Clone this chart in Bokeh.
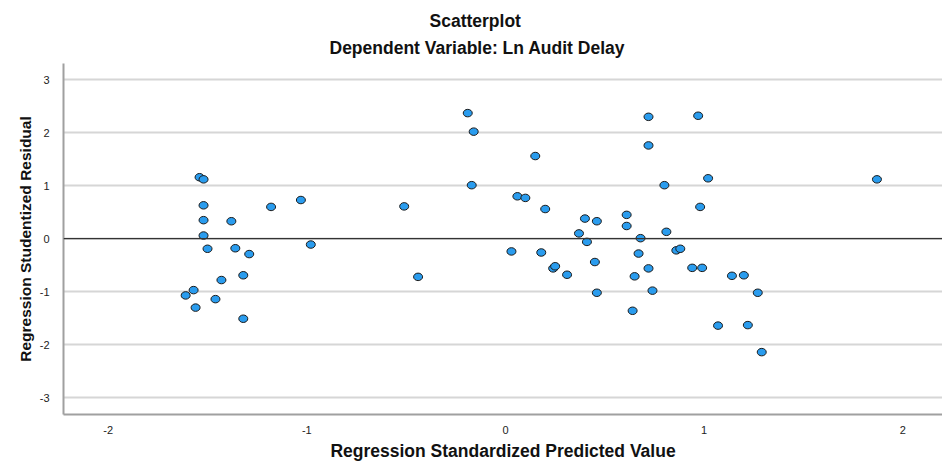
from bokeh.plotting import figure
from bokeh.models import Range1d, Title, Span, FixedTicker, ColumnDataSource, PrintfTickFormatter
from bokeh.embed import file_html
from bokeh.resources import INLINE

# Regression standardized predicted value (x) and studentized residual (y)
x_pred = [
    -1.54, -1.52, -1.52, -1.52, -1.52, -1.50, -1.38, -1.36, -1.29, -1.18,
    -1.03, -0.98, -1.43, -1.32, -1.61, -1.57, -1.56, -1.46, -1.32,
    -0.51, -0.44, -0.19, -0.16, -0.17, 0.15, 0.06, 0.10, 0.20, 0.03,
    0.18, 0.24, 0.25, 0.31, 0.40, 0.46, 0.37, 0.41, 0.45, 0.46,
    0.61, 0.61, 0.68, 0.67, 0.72, 0.65, 0.74, 0.64, 0.72, 0.72,
    0.97, 1.02, 0.80, 0.98, 0.81, 0.86, 0.88, 0.94, 0.99, 1.14,
    1.20, 1.27, 1.07, 1.22, 1.29, 1.87,
]
y_resid = [
    1.16, 1.12, 0.63, 0.35, 0.06, -0.19, 0.33, -0.18, -0.29, 0.60,
    0.73, -0.11, -0.78, -0.69, -1.07, -0.97, -1.30, -1.14, -1.51,
    0.61, -0.72, 2.37, 2.02, 1.01, 1.56, 0.80, 0.77, 0.56, -0.24,
    -0.26, -0.56, -0.52, -0.68, 0.38, 0.33, 0.10, -0.06, -0.44, -1.02,
    0.45, 0.24, 0.01, -0.28, -0.56, -0.71, -0.98, -1.36, 2.30, 1.76,
    2.32, 1.14, 1.01, 0.60, 0.13, -0.22, -0.19, -0.55, -0.55, -0.70,
    -0.69, -1.02, -1.64, -1.63, -2.14, 1.12,
]
x_ticks = [-2, -1, 0, 1, 2]
y_ticks = [-3, -2, -1, 0, 1, 2, 3]

title_text = "Scatterplot"
subtitle_text = "Dependent Variable: Ln Audit Delay"
x_label = "Regression Standardized Predicted Value"
y_label = "Regression Studentized Residual"

FONT = "Liberation Sans"

src = ColumnDataSource(data=dict(x=x_pred, y=y_resid))

p = figure(width=942, height=463, output_backend="svg", toolbar_location=None,
           x_range=Range1d(-2.225, 2.200), y_range=Range1d(-3.317, 3.306),
           min_border_left=63, min_border_right=0, min_border_top=63,
           min_border_bottom=48, outline_line_color=None,
           background_fill_color="white", border_fill_color="white")

# titles
p.title.text = title_text
p.title.align = "left"
p.title.offset = 366
p.title.text_font = FONT
p.title.text_font_size = "17.5px"
p.title.text_font_style = "bold"
p.title.text_color = "#111111"
p.title.standoff = 0

sub = Title(text=subtitle_text, align="left", offset=266, text_font=FONT,
            text_font_size="17.5px", text_font_style="bold",
            text_color="#111111", standoff=11)
p.add_layout(sub, "above")

# grid
p.xgrid.visible = False
p.ygrid.ticker = FixedTicker(ticks=y_ticks)
p.ygrid.grid_line_color = "#d6d6d6"
p.ygrid.grid_line_width = 1.8

# axes
p.xaxis.ticker = FixedTicker(ticks=x_ticks)
p.yaxis.ticker = FixedTicker(ticks=y_ticks)
for ax in (p.xaxis[0], p.yaxis[0]):
    ax.formatter = PrintfTickFormatter(format="%d")
    ax.axis_line_color = "#a0a0a0"
    ax.axis_line_width = 2
    ax.major_tick_line_color = None
    ax.minor_tick_line_color = None
    ax.major_label_text_font = FONT
    ax.major_label_text_font_size = "11px"
    ax.major_label_text_color = "#222222"
    ax.axis_label_text_font = FONT
    ax.axis_label_text_font_style = "bold"
    ax.axis_label_text_color = "#111111"

p.xaxis.axis_label = x_label
p.xaxis.axis_label_text_font_size = "17.5px"
p.xaxis.major_label_standoff = 5
p.xaxis.axis_label_standoff = 4

p.yaxis.axis_label = y_label
p.yaxis.axis_label_text_font_size = "15.5px"
p.yaxis.major_label_standoff = 8
p.yaxis.axis_label_standoff = 3

# reference line at zero
p.add_layout(Span(location=0, dimension="width", line_color="#333333",
                  line_width=1.2))

# points
p.ellipse(x="x", y="y", width=9, height=7.5, width_units="screen",
          height_units="screen", source=src, fill_color="#2a9cee",
          line_color="#1a1a1a", line_width=1)

open("out.html", "w").write(file_html(p, INLINE))
